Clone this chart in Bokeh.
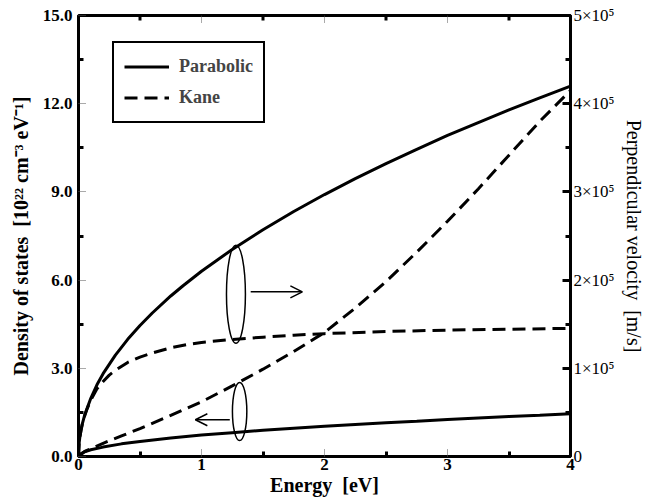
from bokeh.plotting import figure
from bokeh.models import (LinearAxis, Range1d, FixedTicker, Legend, LegendItem,
                          Arrow, OpenHead)
from bokeh.embed import file_html
from bokeh.resources import INLINE

# ---- data ----
# Density of states, parabolic [1e22 cm^-3 eV^-1]
E_dos_par = [0, 0.01, 0.05, 0.1, 0.2, 0.35, 0.5, 0.75, 1.0, 1.25, 1.5, 1.75, 2.0,
             2.25, 2.5, 2.75, 3.0, 3.25, 3.5, 3.75, 4.0]
dos_par = [0, 0.07, 0.16, 0.23, 0.32, 0.43, 0.51, 0.63, 0.73, 0.81, 0.89, 0.96, 1.03,
           1.09, 1.15, 1.20, 1.26, 1.31, 1.36, 1.40, 1.45]

# Density of states, Kane
E_dos_kane = [0, 0.05, 0.1, 0.2, 0.35, 0.5, 0.75, 1.0, 1.25, 1.5, 1.75, 2.0,
              2.25, 2.5, 2.75, 3.0, 3.25, 3.5, 3.75, 4.0]
dos_kane = [0, 0.17, 0.26, 0.45, 0.70, 0.95, 1.40, 1.86, 2.40, 2.97, 3.57, 4.22,
            5.05, 5.95, 6.95, 8.00, 9.10, 10.25, 11.40, 12.45]

# Perpendicular velocity, parabolic [m/s]
E_vel_par = [0, 0.005, 0.01, 0.02, 0.03, 0.05, 0.1, 0.15, 0.2, 0.3, 0.4, 0.5, 0.6,
             0.75, 0.85, 1.0, 1.25, 1.5, 1.75, 2.0, 2.25, 2.5, 2.75, 3.0, 3.25,
             3.5, 3.75, 4.0]
vel_par = [0, 0.148e5, 0.21e5, 0.30e5, 0.364e5, 0.47e5, 0.66e5, 0.813e5, 0.939e5,
           1.150e5, 1.328e5, 1.485e5, 1.627e5, 1.82e5, 1.936e5, 2.10e5, 2.348e5,
           2.57e5, 2.778e5, 2.97e5, 3.15e5, 3.32e5, 3.482e5, 3.64e5, 3.786e5,
           3.93e5, 4.067e5, 4.20e5]

# Perpendicular velocity, Kane [m/s]
E_vel_kane = [0, 0.005, 0.01, 0.02, 0.03, 0.05, 0.07, 0.1, 0.15, 0.2, 0.25, 0.3,
              0.4, 0.5, 0.6, 0.75, 0.9, 1.0, 1.25, 1.5, 1.75, 2.0, 2.5, 3.0, 3.5, 4.0]
vel_kane = [0, 0.148e5, 0.21e5, 0.29e5, 0.36e5, 0.46e5, 0.54e5, 0.64e5, 0.767e5,
            0.85e5, 0.923e5, 0.977e5, 1.067e5, 1.127e5, 1.173e5, 1.233e5, 1.273e5,
            1.293e5, 1.327e5, 1.353e5, 1.375e5, 1.393e5, 1.417e5, 1.433e5,
            1.443e5, 1.453e5]

x_ticks = [0, 1, 2, 3, 4]
x_tick_labels = ["0", "1", "2", "3", "4"]
y_ticks = [0, 3, 6, 9, 12, 15]
y_tick_labels = ["0.0", "3.0", "6.0", "9.0", "12.0", "15.0"]
v_ticks = [0, 100000, 200000, 300000, 400000, 500000]
v_tick_labels = ["0", "1×10⁵", "2×10⁵", "3×10⁵", "4×10⁵", "5×10⁵"]
x_minor = [0.5, 1.5, 2.5, 3.5]
y_minor = [1.5, 4.5, 7.5, 10.5, 13.5]
v_minor = [50000, 150000, 250000, 350000, 450000]

legend_labels = ["Parabolic", "Kane"]

# annotation marks (ellipses grouping curves, arrows to their axes)
ell_x = [1.28, 1.31]
ell_y = [5.52, 1.53]
ell_w = [0.154, 0.117]
ell_h = [3.34, 1.98]
arrow_right = dict(x0=1.40, x1=1.82, y=5.6)
arrow_left = dict(x0=1.23, x1=0.95, y=1.25)

FONT = "Liberation Serif"
NB = "\u00a0\u00a0"
Y_TOP = 15.0
MAJOR_LEN = 0.27   # inward tick length on the top frame, in y units
MINOR_LEN = 0.17

p = figure(width=647, height=504, output_backend="svg", toolbar_location=None,
           x_range=Range1d(0, 4), y_range=Range1d(0, Y_TOP),
           min_border_left=78, min_border_right=74, min_border_top=15,
           min_border_bottom=48)
p.extra_y_ranges = {"vel": Range1d(0, 5e5)}
p.xgrid.visible = False
p.ygrid.visible = False
p.outline_line_color = "black"
p.outline_line_width = 3
p.background_fill_color = "white"
p.border_fill_color = "white"

# curves
r_dp = p.line(E_dos_par, dos_par, line_color="black", line_width=3)
r_dk = p.line(E_dos_kane, dos_kane, line_color="black", line_width=3, line_dash="13 7")
r_vp = p.line(E_vel_par, vel_par, y_range_name="vel", line_color="black", line_width=3)
r_vk = p.line(E_vel_kane, vel_kane, y_range_name="vel", line_color="black",
              line_width=3, line_dash="13 7")

# top-frame ticks (mirror of the energy axis, no labels)
inner_major = x_ticks[1:-1]
p.segment(x0=inner_major, y0=[Y_TOP] * len(inner_major), x1=inner_major,
          y1=[Y_TOP - MAJOR_LEN] * len(inner_major), line_color="#555555",
          line_width=1, line_dash="1 1")
p.segment(x0=x_minor, y0=[Y_TOP] * len(x_minor), x1=x_minor,
          y1=[Y_TOP - MINOR_LEN] * len(x_minor), line_color="black", line_width=3)

# ellipses and arrows
p.ellipse(x=ell_x, y=ell_y, width=ell_w, height=ell_h, fill_color=None,
          line_color="black", line_width=1.5)
for a in (arrow_right, arrow_left):
    p.add_layout(Arrow(end=OpenHead(size=12, line_width=1.5, line_color="black"),
                       x_start=a["x0"], y_start=a["y"], x_end=a["x1"], y_end=a["y"],
                       line_width=1.5, line_color="black"))


def style_axis(ax, ticks, minor, labels, bold=True, dotted=True):
    ax.ticker = FixedTicker(ticks=ticks, minor_ticks=minor)
    ax.major_label_overrides = {t: l for t, l in zip(ticks, labels)}
    ax.axis_line_width = 3
    ax.axis_line_color = "black"
    ax.major_tick_in = 8
    ax.major_tick_out = 0
    ax.minor_tick_in = 5
    ax.minor_tick_out = 0
    ax.minor_tick_line_width = 3
    ax.minor_tick_line_color = "black"
    if dotted:
        ax.major_tick_line_dash = "1 1"
        ax.major_tick_line_color = "#555555"
        ax.major_tick_line_width = 1
    else:
        ax.major_tick_line_width = 3
        ax.major_tick_line_color = "black"
    ax.major_label_text_font = FONT
    ax.major_label_text_font_size = "17px"
    ax.major_label_text_font_style = "bold" if bold else "normal"
    ax.major_label_text_color = "black"
    ax.axis_label_text_font = FONT
    ax.axis_label_text_font_size = "20px"
    ax.axis_label_text_font_style = "bold" if bold else "normal"
    ax.axis_label_text_color = "black"


style_axis(p.xaxis[0], x_ticks, x_minor, x_tick_labels)
p.xaxis[0].axis_label = "Energy" + NB + "[eV]"
p.xaxis[0].major_label_standoff = 2
p.xaxis[0].axis_label_standoff = 1

style_axis(p.yaxis[0], y_ticks, y_minor, y_tick_labels)
p.yaxis[0].axis_label = "Density of states" + NB + "[10²² cm⁻³ eV⁻¹]"
p.yaxis[0].major_label_standoff = 6
p.yaxis[0].axis_label_standoff = 8

right = LinearAxis(y_range_name="vel")
style_axis(right, v_ticks, v_minor, v_tick_labels, bold=False, dotted=False)
right.axis_label = "Perpendicular velocity" + NB + "[m/s]"
right.major_label_standoff = 3
right.axis_label_standoff = 5
p.add_layout(right, "right")

legend = Legend(items=[LegendItem(label=legend_labels[0], renderers=[r_dp]),
                       LegendItem(label=legend_labels[1], renderers=[r_dk])],
                location=(34, 333), glyph_width=45, glyph_height=27,
                label_height=27, label_standoff=10, padding=10, spacing=4,
                label_text_font=FONT, label_text_font_size="18px",
                label_text_font_style="bold",
                border_line_color="black", border_line_alpha=1.0,
                border_line_width=2, background_fill_alpha=1.0, margin=0)
p.add_layout(legend)

open("out.html", "w").write(file_html(p, INLINE))
